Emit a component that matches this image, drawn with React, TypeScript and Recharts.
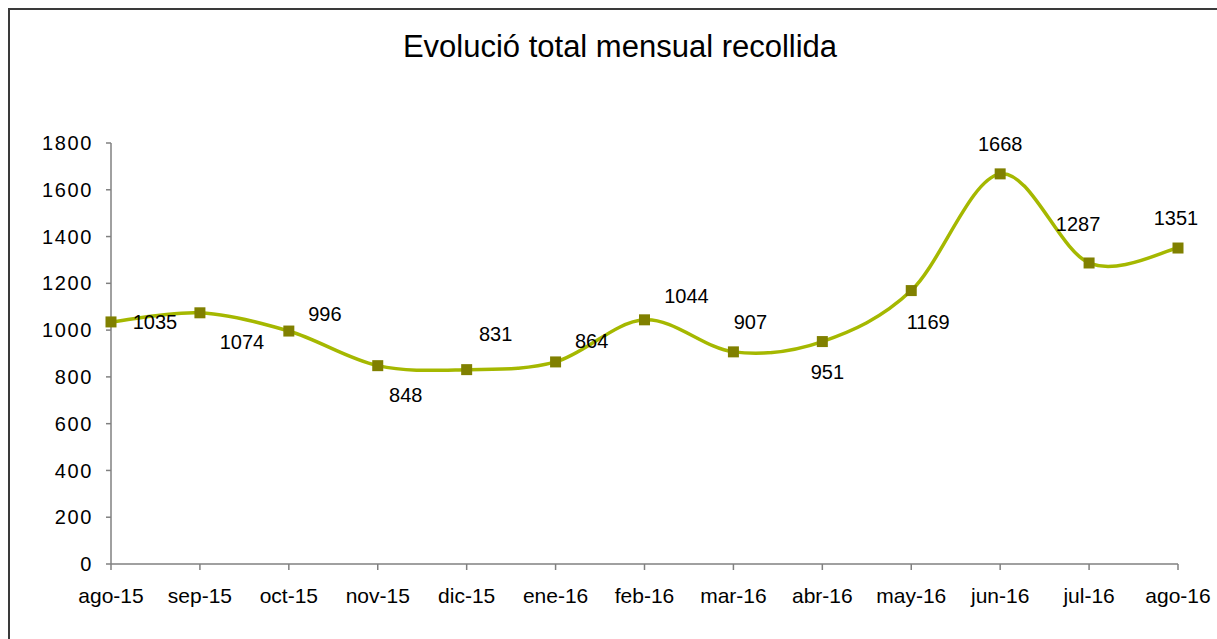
import { LineChart, Line, XAxis, YAxis, LabelList } from "recharts";

const months = [
  "ago-15", "sep-15", "oct-15", "nov-15", "dic-15", "ene-16", "feb-16",
  "mar-16", "abr-16", "may-16", "jun-16", "jul-16", "ago-16",
];
const totals = [1035, 1074, 996, 848, 831, 864, 1044, 907, 951, 1169, 1668, 1287, 1351];
const yTicks = [0, 200, 400, 600, 800, 1000, 1200, 1400, 1600, 1800];

// where each value label sits, relative to its marker (hand placed in the original)
const labelOffsets: [number, number][] = [
  [44, 0], [42, 29], [36, -17], [28, 29], [29, -36], [36, -21], [42, -24],
  [17, -30], [5, 30], [17, 31], [0, -30], [-11, -39], [-2, -30],
];

const data = months.map((month, i) => ({ month, total: totals[i] }));

const FONT = "'Liberation Sans', Arial, sans-serif";

// Excel-like smoothed line (Catmull-Rom through every point)
function smoothCurve(context: any) {
  let pts: [number, number][] = [];
  return {
    areaStart() {},
    areaEnd() {},
    lineStart() {
      pts = [];
    },
    point(x: number, y: number) {
      pts.push([+x, +y]);
    },
    lineEnd() {
      const n = pts.length;
      if (!n) return;
      context.moveTo(pts[0][0], pts[0][1]);
      for (let i = 0; i < n - 1; i++) {
        const p0 = pts[i > 0 ? i - 1 : i];
        const p1 = pts[i];
        const p2 = pts[i + 1];
        const p3 = pts[i + 2 < n ? i + 2 : i + 1];
        context.bezierCurveTo(
          p1[0] + (p2[0] - p0[0]) / 6,
          p1[1] + (p2[1] - p0[1]) / 6,
          p2[0] - (p3[0] - p1[0]) / 6,
          p2[1] - (p3[1] - p1[1]) / 6,
          p2[0],
          p2[1]
        );
      }
    },
  };
}

function renderLabel(props: any) {
  const { x, y, index, value } = props;
  const [dx, dy] = labelOffsets[index] || [0, -20];
  return (
    <text
      x={x + dx}
      y={y + dy}
      textAnchor="middle"
      dominantBaseline="central"
      fontSize={20}
      fontFamily={FONT}
      fill="#000"
    >
      {value}
    </text>
  );
}

function SquareDot(props: any) {
  const { cx, cy } = props;
  return <rect x={cx - 5.5} y={cy - 5.5} width={11} height={11} fill="#808000" />;
}

export default function App() {
  return (
    <div
      style={{
        position: "fixed",
        top: 8,
        left: 8,
        width: 1209,
        height: 631,
        borderTop: "2px solid #3a3a3a",
        borderLeft: "2px solid #3a3a3a",
        background: "#fff",
        fontFamily: FONT,
      }}
    >
      <div
        style={{
          position: "absolute",
          left: 0,
          top: 22,
          width: 1220,
          textAlign: "center",
          fontSize: 31,
          lineHeight: "30px",
          color: "#000",
        }}
      >
        Evolució total mensual recollida
      </div>
      <LineChart
        width={1207}
        height={629}
        data={data}
        margin={{ top: 133, right: 39, left: 0, bottom: 0 }}
      >
        <XAxis
          dataKey="month"
          interval={0}
          height={75}
          tickSize={6}
          tickMargin={18}
          axisLine={{ stroke: "#808080", strokeWidth: 1.5 }}
          tickLine={{ stroke: "#808080", strokeWidth: 1.5 }}
          tick={{ fill: "#000", fontSize: 21, fontFamily: FONT }}
        />
        <YAxis
          domain={[0, 1800]}
          ticks={yTicks}
          width={101}
          tickSize={5}
          tickMargin={13}
          axisLine={{ stroke: "#808080", strokeWidth: 1.5 }}
          tickLine={{ stroke: "#808080", strokeWidth: 1.5 }}
          tick={{ fill: "#000", fontSize: 20, fontFamily: FONT, letterSpacing: 1.6 }}
        />
        <Line
          dataKey="total"
          type={smoothCurve as any}
          stroke="#A5B800"
          strokeWidth={3.5}
          dot={<SquareDot />}
          activeDot={false}
          isAnimationActive={false}
        >
          <LabelList dataKey="total" content={renderLabel} />
        </Line>
      </LineChart>
    </div>
  );
}
